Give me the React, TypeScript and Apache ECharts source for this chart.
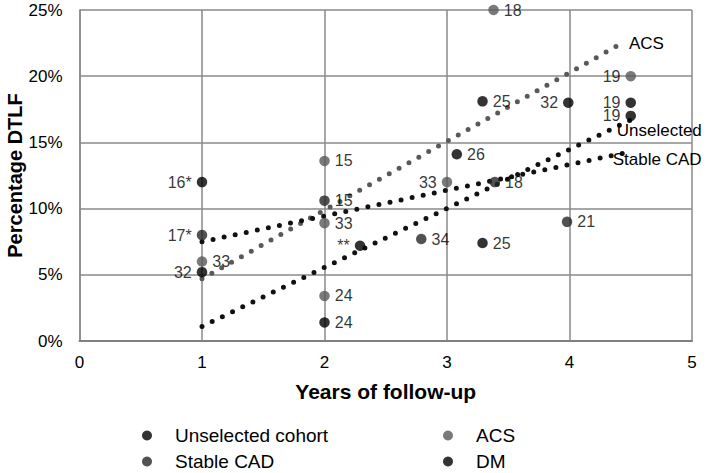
import React, { useEffect, useRef } from "react";
import * as echarts from "echarts";

// ---- data ----
const acsX = [1, 2, 2, 2, 3, 3.38, 4.5];
const acsY = [6.0, 13.6, 8.9, 3.4, 12.0, 25.0, 20.0];
const acsLabels = ["33", "15", "33", "24", "33", "18", "19"];
const acsLeft = [4, 6];

const unselX = [1, 2, 2.29, 3.08, 3.29, 3.99, 4.5];
const unselY = [5.2, 1.4, 7.2, 14.1, 7.4, 18.0, 17.0];
const unselLabels = ["32", "24", "**", "26", "25", "32", "19"];
const unselLeft = [0, 2, 5, 6];

const stableX = [1, 2, 2.79, 3.39, 3.98];
const stableY = [8.0, 10.6, 7.7, 12.0, 9.0];
const stableLabels = ["17*", "15", "34", "18", "21"];
const stableLeft = [0];

const dmX = [1, 3.29, 4.5];
const dmY = [12.0, 18.1, 18.0];
const dmLabels = ["16*", "25", "19"];
const dmLeft = [0, 2];

// trend lines (start and end points)
const acsTrend = [
  [1, 4.7],
  [4.42, 22.45],
];
const unselTrend = [
  [1, 1.1],
  [4.5, 16.7],
];
const stableTrend = [
  [1, 7.5],
  [4.5, 14.3],
];

const xTicks = [0, 5, 1];
const yTicks = [0, 25, 5];

const FONT = "'Liberation Sans', Arial, sans-serif";

function pts(xs: number[], ys: number[], labels: string[], left: number[]) {
  return xs.map((x, i) => ({
    value: [x, ys[i]],
    name: labels[i],
    label: { position: left.indexOf(i) >= 0 ? "left" : "right" },
  }));
}

function scatter(name: string, color: string, data: any[]) {
  return {
    name,
    type: "scatter",
    symbol: "circle",
    symbolSize: 10.5,
    z: 5,
    itemStyle: { color },
    label: {
      show: true,
      formatter: (p: any) => p.name,
      color: "#000",
      fontSize: 16,
      fontFamily: FONT,
      distance: 5,
    },
    data,
  };
}

function trend(color: string, data: number[][], text: string, offset: number[]) {
  return {
    type: "line",
    name: text + " trend",
    showSymbol: false,
    symbol: "none",
    z: 3,
    lineStyle: { color, width: 5, type: [0, 11.3], cap: "round" },
    endLabel: {
      show: true,
      formatter: text,
      color: "#000",
      fontSize: 17,
      fontFamily: FONT,
      offset,
    },
    data,
  };
}

export default function App() {
  const ref = useRef<HTMLDivElement>(null);
  useEffect(() => {
    if (!ref.current) return;
    const chart = echarts.init(ref.current, null, { renderer: "svg" });
    const legendText = {
      fontSize: 19,
      fontFamily: FONT,
      color: "#000",
      lineHeight: 19,
      padding: [0, 0, 0, 18],
    };
    const legendBase = {
      orient: "vertical",
      top: 426,
      height: 80,
      padding: 0,
      icon: "circle",
      itemWidth: 10,
      itemHeight: 10,
      itemGap: 7,
      textStyle: legendText,
    };
    chart.setOption({
      animation: false,
      backgroundColor: "#fff",
      textStyle: { fontFamily: FONT },
      grid: { left: 79.5, right: 17, top: 10, bottom: 132, outerBoundsMode: "none", containLabel: false },
      legend: [
        { ...legendBase, data: ["Unselected cohort", "Stable CAD"], left: 142 },
        { ...legendBase, data: ["ACS", "DM"], left: 443 },
      ],
      xAxis: {
        type: "value",
        min: xTicks[0],
        max: xTicks[1],
        interval: xTicks[2],
        name: "Years of follow-up",
        nameLocation: "middle",
        nameGap: 40,
        nameMoveOverlap: false,
        nameTextStyle: { fontSize: 21, fontWeight: "bold", color: "#000", fontFamily: FONT },
        axisLine: { show: true, lineStyle: { color: "#7f7f7f", width: 2 } },
        axisTick: { show: false },
        axisLabel: { fontSize: 17, color: "#000", margin: 13, fontFamily: FONT },
        splitLine: { show: true, lineStyle: { color: "#8a8a8a", width: 1.5 } },
      },
      yAxis: {
        type: "value",
        min: yTicks[0],
        max: yTicks[1],
        interval: yTicks[2],
        name: "Percentage DTLF",
        nameLocation: "middle",
        nameGap: 55,
        nameMoveOverlap: false,
        nameRotate: 90,
        nameTextStyle: { fontSize: 20, fontWeight: "bold", color: "#000", fontFamily: FONT },
        axisLine: { show: true, lineStyle: { color: "#8a8a8a", width: 1.5 } },
        axisTick: { show: false },
        axisLabel: { fontSize: 17, color: "#000", margin: 17, formatter: "{value}%", fontFamily: FONT },
        splitLine: { show: true, lineStyle: { color: "#8a8a8a", width: 1.5 } },
      },
      series: [
        trend("#595959", acsTrend, "ACS", [0, 0]),
        trend("#111", unselTrend, "Unselected", [-22, 11]),
        trend("#111", stableTrend, "Stable CAD", [-26, 8]),
        scatter("Unselected cohort", "#000", pts(unselX, unselY, unselLabels, unselLeft)),
        scatter("Stable CAD", "#262626", pts(stableX, stableY, stableLabels, stableLeft)),
        scatter("ACS", "#595959", pts(acsX, acsY, acsLabels, acsLeft)),
        scatter("DM", "#000", pts(dmX, dmY, dmLabels, dmLeft)),
      ],
    });
    return () => chart.dispose();
  }, []);
  return (
    <div
      ref={ref}
      style={{ position: "fixed", left: 0, top: 0, width: 709, height: 473 }}
    />
  );
}
